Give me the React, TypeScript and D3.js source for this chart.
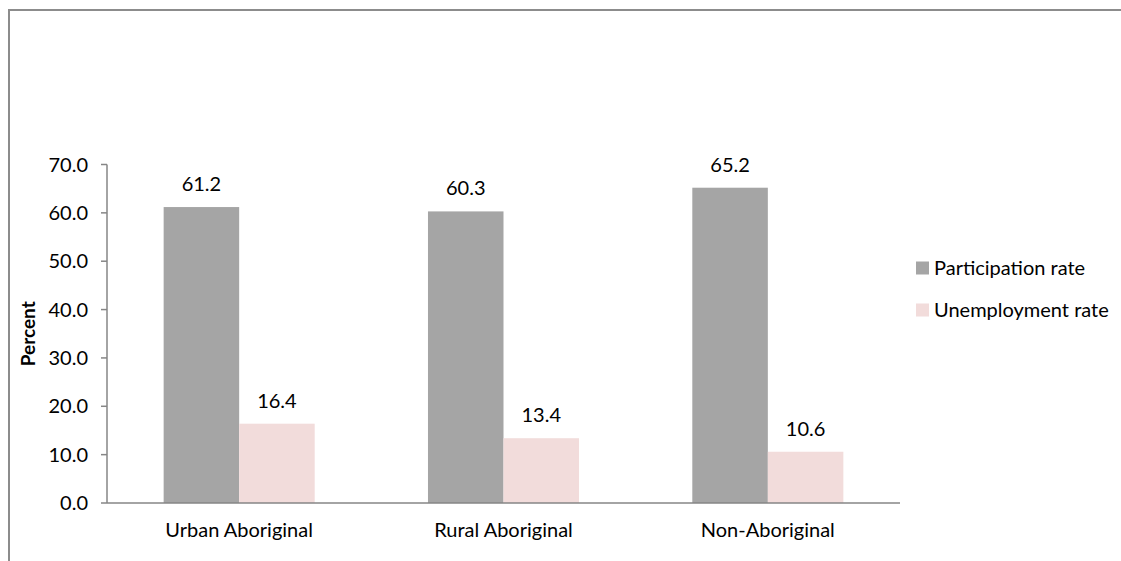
import React from "react";
import * as d3 from "d3";

const categories = ["Urban Aboriginal", "Rural Aboriginal", "Non-Aboriginal"];
const seriesNames = ["Participation rate", "Unemployment rate"];
const participation = [61.2, 60.3, 65.2];
const unemployment = [16.4, 13.4, 10.6];
const yTicks = [0, 10, 20, 30, 40, 50, 60, 70];

const W = 1121;
const H = 561;
const FONT = "Lato, 'Open Sans', sans-serif";
const FS = 20;
const colors = ["#A5A5A5", "#F2DCDB"];
const axisColor = "#868686";

const plot = { left: 107, right: 900, top: 164.5, bottom: 503 };

export default function App() {
  const x0 = d3
    .scaleBand<string>()
    .domain(categories)
    .range([plot.left, plot.right])
    .paddingInner(0)
    .paddingOuter(0);
  // two bars per group, 150% gap between groups
  const groupW = x0.bandwidth();
  const barW = groupW / 3.5;
  const x1 = d3
    .scaleBand<string>()
    .domain(seriesNames)
    .range([groupW / 2 - barW, groupW / 2 + barW]);
  const y = d3.scaleLinear().domain([0, 70]).range([plot.bottom, plot.top]);

  const series = [participation, unemployment];

  return (
    <svg
      width={W}
      height={H}
      style={{ position: "absolute", left: 0, top: 0, background: "#fff" }}
      fontFamily={FONT}
    >
      <rect x={0} y={0} width={W} height={H} fill="#fff" />
      {/* chart frame */}
      <path d={`M9,${H} V10 H${W}`} fill="none" stroke="#8c8c8c" strokeWidth={2} />

      {/* bars */}
      {categories.map((c, i) => (
        <g key={c} transform={`translate(${x0(c)},0)`}>
          {series.map((vals, s) => {
            const v = vals[i];
            const bx = x1(seriesNames[s])!;
            return (
              <g key={s}>
                <rect
                  x={bx}
                  y={y(v)}
                  width={x1.bandwidth()}
                  height={y(0) - y(v)}
                  fill={colors[s]}
                />
                <text
                  x={bx + x1.bandwidth() / 2}
                  y={y(v) - 23}
                  dy="0.35em"
                  textAnchor="middle"
                  fontSize={FS}
                  fill="#000"
                >
                  {v.toFixed(1)}
                </text>
              </g>
            );
          })}
        </g>
      ))}

      {/* y axis */}
      <line x1={plot.left} x2={plot.left} y1={plot.top} y2={plot.bottom} stroke={axisColor} strokeWidth={1.5} />
      {yTicks.map((t) => (
        <g key={t}>
          <line x1={plot.left - 6} x2={plot.left} y1={y(t)} y2={y(t)} stroke={axisColor} strokeWidth={1.5} />
          <text x={88} y={y(t)} dy="0.35em" textAnchor="end" fontSize={FS} fill="#000">
            {t.toFixed(1)}
          </text>
        </g>
      ))}
      <text
        transform={`translate(28,${(plot.top + plot.bottom) / 2}) rotate(-90)`}
        dy="0.35em"
        textAnchor="middle"
        fontSize={FS - 1}
        fontWeight="bold"
        fill="#000"
      >
        Percent
      </text>

      {/* x axis */}
      <line x1={plot.left} x2={plot.right} y1={plot.bottom} y2={plot.bottom} stroke={axisColor} strokeWidth={1.5} />
      {categories.map((c) => (
        <text
          key={c}
          x={x0(c)! + groupW / 2}
          y={530}
          dy="0.35em"
          textAnchor="middle"
          fontSize={FS}
          fill="#000"
        >
          {c}
        </text>
      ))}

      {/* legend */}
      {seriesNames.map((n, i) => (
        <g key={n} transform={`translate(916,${268 + i * 42})`}>
          <rect x={0} y={-6.5} width={13} height={13} fill={colors[i]} />
          <text x={18} y={0} dy="0.35em" fontSize={FS} fill="#000">
            {n}
          </text>
        </g>
      ))}
    </svg>
  );
}
